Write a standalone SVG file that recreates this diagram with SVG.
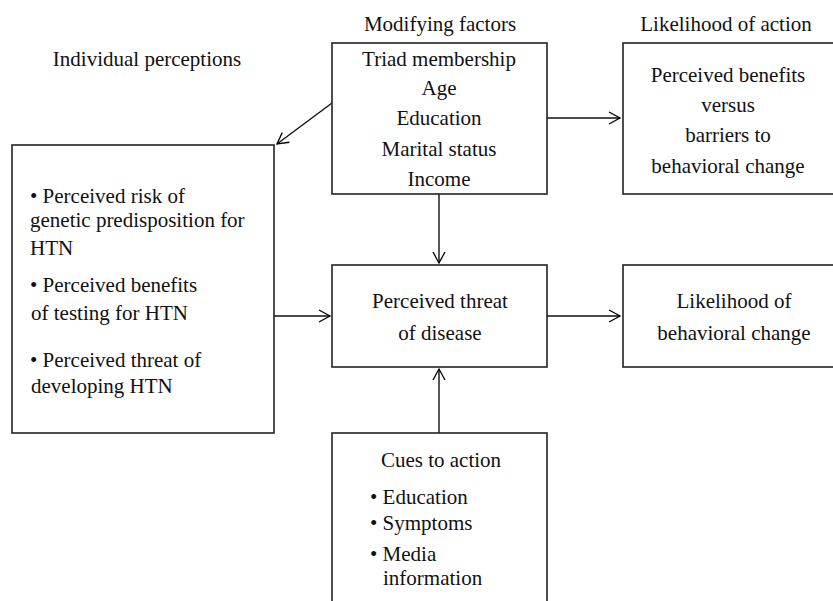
<svg xmlns="http://www.w3.org/2000/svg" width="833" height="601" viewBox="0 0 833 601">
<defs>
<marker id="ah" markerWidth="14" markerHeight="14" refX="12" refY="7" orient="auto" markerUnits="userSpaceOnUse">
<path d="M1,1 L12,7 L1,13" fill="none" stroke="#000" stroke-width="1.3"/>
</marker>
<style>
text{font-family:"Liberation Serif","Times New Roman",serif;font-size:21px;fill:#111}
.c{text-anchor:middle}
.box{fill:#fff;stroke:#222;stroke-width:1.6}
.ln{stroke:#111;stroke-width:1.4;fill:none;marker-end:url(#ah)}
</style>
</defs>
<rect width="833" height="601" fill="#fff"/>
<text class="c" x="147" y="66">Individual perceptions</text>
<text class="c" x="440" y="31">Modifying factors</text>
<text class="c" x="726" y="31">Likelihood of action</text>
<g id="connectors">
<line class="ln" x1="332" y1="103" x2="277" y2="144"/>
<line class="ln" x1="547" y1="118" x2="620" y2="118"/>
<line class="ln" x1="439" y1="194" x2="439" y2="263"/>
<line class="ln" x1="274" y1="316" x2="330" y2="316"/>
<line class="ln" x1="547" y1="316" x2="620" y2="316"/>
<line class="ln" x1="439" y1="433" x2="439" y2="369"/>
</g>
<g id="individual">
<rect class="box" x="12" y="145" width="262" height="288"/>
<text x="30" y="203">• Perceived risk of</text>
<text x="30" y="227">genetic predisposition for</text>
<text x="30" y="255">HTN</text>
<text x="30" y="292">• Perceived benefits</text>
<text x="31" y="320">of testing for HTN</text>
<text x="30" y="367">• Perceived threat of</text>
<text x="31" y="393">developing HTN</text>
</g>
<g id="modifying">
<rect class="box" x="332" y="43" width="215" height="151"/>
<text class="c" x="439" y="66">Triad membership</text>
<text class="c" x="439" y="95">Age</text>
<text class="c" x="439" y="125">Education</text>
<text class="c" x="439" y="156">Marital status</text>
<text class="c" x="439" y="186">Income</text>
</g>
<g id="benefits">
<rect class="box" x="623" y="43" width="214" height="151"/>
<text class="c" x="728" y="82">Perceived benefits</text>
<text class="c" x="728" y="112">versus</text>
<text class="c" x="728" y="142">barriers to</text>
<text class="c" x="728" y="173">behavioral change</text>
</g>
<g id="threat">
<rect class="box" x="332" y="265" width="215" height="102"/>
<text class="c" x="440" y="308">Perceived threat</text>
<text class="c" x="440" y="340">of disease</text>
</g>
<g id="likelihood">
<rect class="box" x="623" y="265" width="214" height="102"/>
<text class="c" x="734" y="308">Likelihood of</text>
<text class="c" x="734" y="340">behavioral change</text>
</g>
<g id="cues">
<rect class="box" x="332" y="433" width="215" height="180"/>
<text class="c" x="441" y="467">Cues to action</text>
<text x="370" y="504">• Education</text>
<text x="370" y="530">• Symptoms</text>
<text x="370" y="561">• Media</text>
<text x="383" y="585">information</text>
</g>
</svg>
